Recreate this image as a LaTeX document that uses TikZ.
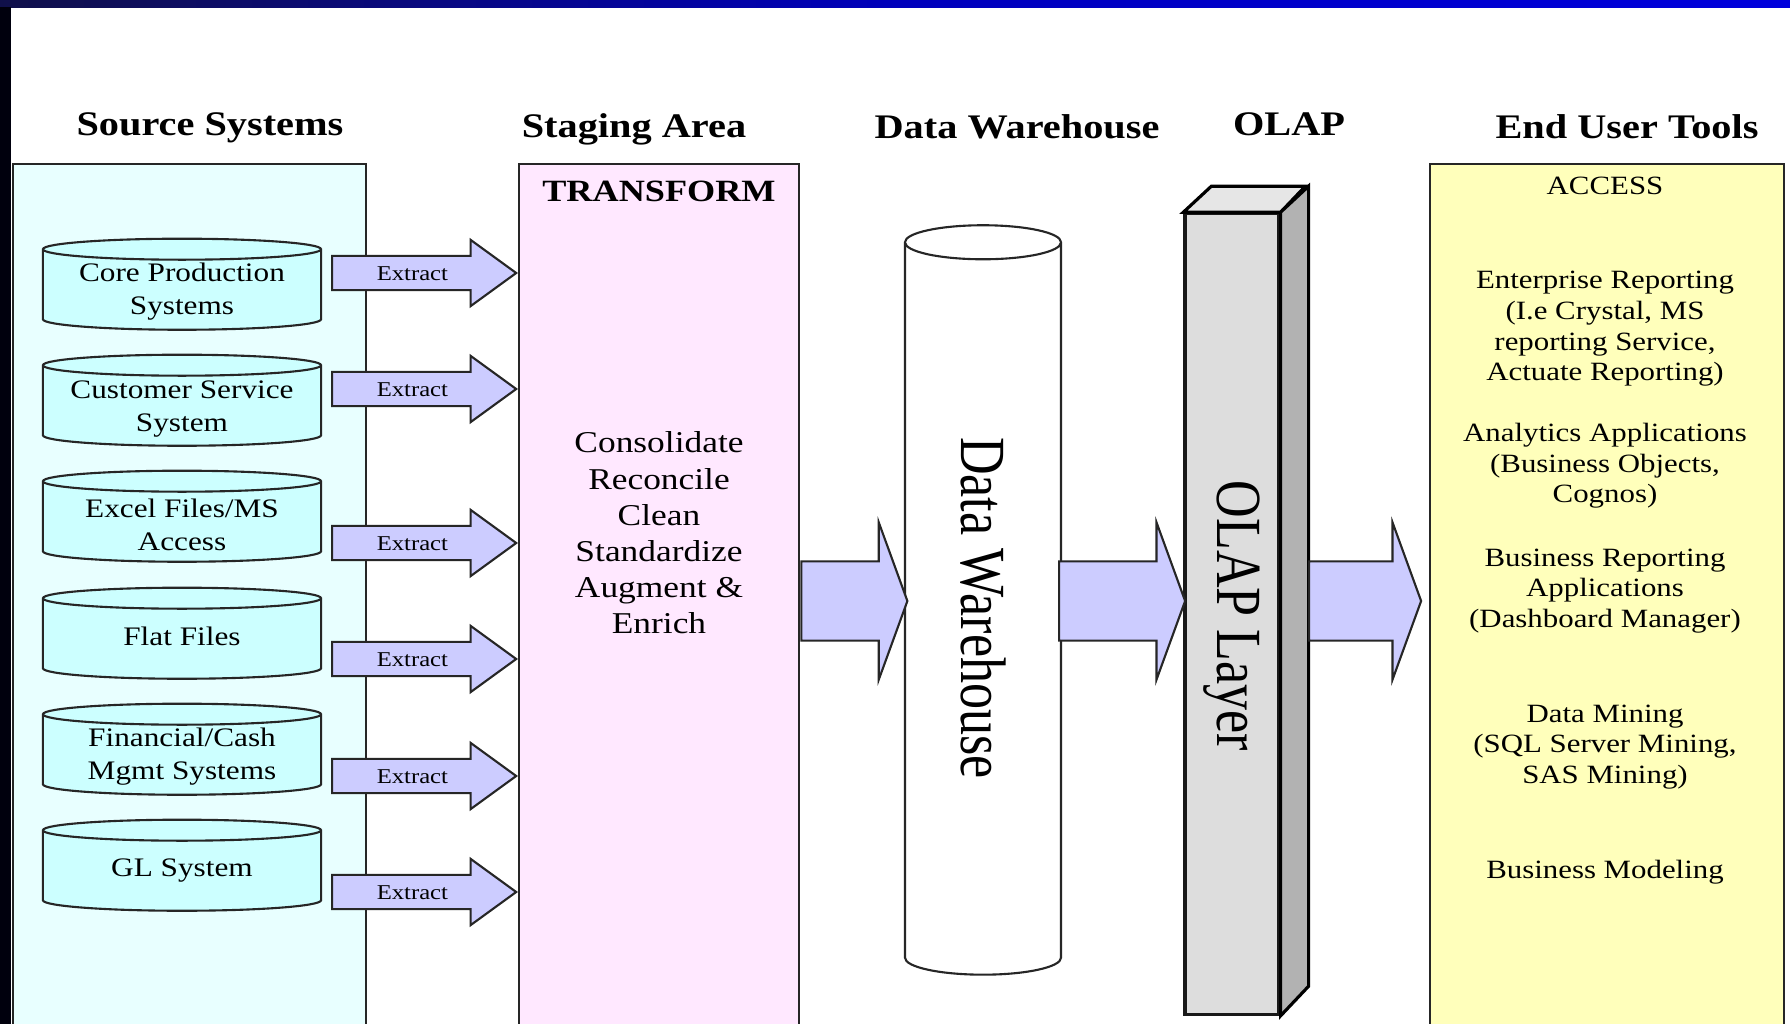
\documentclass[tikz,border=0pt]{standalone}
\usepackage{fontspec}
\setmainfont{Liberation Serif}[FakeStretch=1.17]
\newfontfamily\vertfont{Liberation Serif}[FakeStretch=0.81]
\usepackage{tikz}
\usetikzlibrary{shapes.geometric,shapes.arrows,positioning,calc}

\definecolor{srcbg}{HTML}{E8FFFF}
\definecolor{cylbg}{HTML}{CCFFFF}
\definecolor{stagebg}{HTML}{FFE8FF}
\definecolor{userbg}{HTML}{FFFFBB}
\definecolor{arrowbg}{HTML}{CCCCFF}
\definecolor{olapfront}{HTML}{DDDDDD}
\definecolor{olaptop}{HTML}{E6E6E6}
\definecolor{olapside}{HTML}{B2B2B2}
\definecolor{bandleft}{HTML}{10104A}
\definecolor{bandright}{HTML}{0000DC}

\begin{document}
\begin{tikzpicture}[x=0.01cm,y=-0.01cm,
  panel/.style={draw=black!85,line width=0.6pt,anchor=north west,inner sep=0,minimum height=8.8cm},
  heading/.style={font=\fontsize{9.8}{11}\selectfont\bfseries,anchor=base},
  db/.style={cylinder,shape border rotate=90,shape aspect=0.0755,draw=black!85,line width=0.6pt,
    fill=cylbg,text width=2.78cm,minimum width=2.78cm,minimum height=0.91cm,inner sep=0},
  dbtext/.style={align=center,font=\fontsize{7.6}{9.4}\selectfont},
  extract/.style={single arrow,draw=black!85,line width=0.6pt,fill=arrowbg,minimum width=0.64cm,
    minimum height=1.84cm,single arrow head extend=0.16cm,single arrow tip angle=72,inner sep=0,
    text height=0.235cm,text depth=0.085cm,anchor=tip,font=\fontsize{6}{7}\selectfont},
  flow/.style={single arrow,draw=black!85,line width=0.6pt,fill=arrowbg,minimum width=1.55cm,
    single arrow head extend=0.39cm,single arrow tip angle=140,inner xsep=0,inner ysep=0.385cm,
    text height=0,text depth=0,anchor=tail},
  tool/.style={align=center,font=\fontsize{7.5}{8.7}\selectfont},
  vlabel/.style={rotate=-90,font=\vertfont\fontsize{18.3}{20}\selectfont}]
  \clip (0,0) rectangle (1790,1024);
  \fill[white] (0,0) rectangle (1790,1024);
  \shade[left color=bandleft,right color=bandright,middle color=bandright!85!black] (0,0) rectangle (1790,7);
  \fill[black!95!blue] (0,7) rectangle (11,1024);

  \node[heading] (hsrc) at (210,136) {Source Systems};
  \node[heading] (hstage) at (634,137) {Staging Area};
  \node[heading] (hdw) at (1017,138) {Data Warehouse};
  \node[heading] (holap) at (1289,135) {OLAP};
  \node[heading] (huser) at (1627,138) {End User Tools};

  \node[panel,fill=srcbg,minimum width=3.53cm] (src) at (12,163) {};
  \node[panel,fill=stagebg,minimum width=2.8cm] (stage) at (518,163) {};
  \node[panel,fill=userbg,minimum width=3.54cm] (user) at (1429,163) {};

  \node[db] (core) at (182,290) {};
  \node[db] (cust) at (182,406) {};
  \node[db] (excel) at (182,522) {};
  \node[db] (flat) at (182,639) {};
  \node[db] (fin) at (182,755) {};
  \node[db] (gl) at (182,871) {};
  \node[dbtext] (coretext) at (182,292) {Core Production\\Systems};
  \node[dbtext] (custtext) at (182,409) {Customer Service\\System};
  \node[dbtext] (exceltext) at (182,525) {Excel Files/MS\\Access};
  \node[dbtext] (flattext) at (182,636) {Flat Files};
  \node[dbtext] (fintext) at (182,757) {Financial/Cash\\Mgmt Systems};
  \node[dbtext] (gltext) at (182,871) {GL System};

  \node[extract] (ex1) at (stage.west |- 0,273) {Extract};
  \node[extract] (ex2) at (stage.west |- 0,389) {Extract};
  \node[extract] (ex3) at (stage.west |- 0,543) {Extract};
  \node[extract] (ex4) at (stage.west |- 0,659) {Extract};
  \node[extract] (ex5) at (stage.west |- 0,776) {Extract};
  \node[extract] (ex6) at (stage.west |- 0,892) {Extract};

  \node[font=\fontsize{8.8}{10}\selectfont\bfseries,anchor=base] (transform) at (659,201) {TRANSFORM};
  \node[align=center,font=\fontsize{8.6}{10.3}\selectfont] (steps) at (659,533)
    {Consolidate\\Reconcile\\Clean\\Standardize\\Augment \&\\Enrich};

  \node[cylinder,shape border rotate=90,shape aspect=0.218,draw=black!85,line width=0.6pt,
    fill=white,text width=1.56cm,minimum width=1.56cm,minimum height=7.49cm,inner sep=0] (dw) at (983,609) {};
  \node[vlabel] (dwtext) at (983,608) {Data Warehouse};

  \node[draw=black!90,line width=0.9pt,fill=olapfront,minimum width=0.94cm,minimum height=8cm,
    inner sep=0] (olap) at (1232,614) {};
  \draw[line width=0.9pt,fill=olaptop] (olap.north west) -- ++(28,-26) -- ++(94,0) -- (olap.north east) -- cycle;
  \draw[line width=0.9pt,fill=olapside] (olap.north east) -- ++(28,-26) -- ++(0,800) -- (olap.south east) -- cycle;
  \node[vlabel] (olaptext) at (1232,616) {OLAP Layer};

  \node[flow,minimum height=1.06cm] (todw) at (stage.east |- 0,601) {};
  \node[flow,minimum height=1.26cm] (toolap) at (1058,601) {};
  \node[flow,minimum height=1.12cm] (touser) at (1308,601) {};

  \node[tool,anchor=base] (access) at (1605,194) {ACCESS};
  \node[tool] (ent) at (1605,329) {Enterprise Reporting\\(I.e Crystal, MS\\reporting Service,\\Actuate Reporting)};
  \node[tool] (ana) at (1605,466) {Analytics Applications\\(Business Objects,\\Cognos)};
  \node[tool] (bus) at (1605,591) {Business Reporting\\Applications\\(Dashboard Manager)};
  \node[tool] (mine) at (1605,747) {Data Mining\\(SQL Server Mining,\\SAS Mining)};
  \node[tool,anchor=base] (model) at (1605,878) {Business Modeling};
\end{tikzpicture}
\end{document}
